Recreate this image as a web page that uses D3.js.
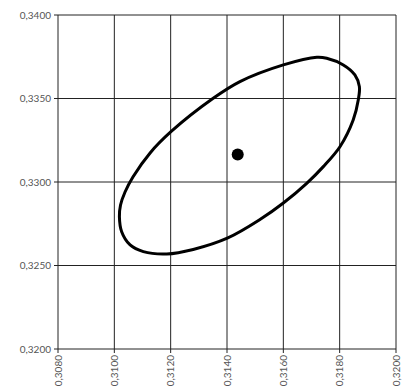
<!DOCTYPE html>
<html>
<head>
<meta charset="utf-8">
<script src="https://cdn.jsdelivr.net/npm/d3@7"></script>
<style>
  body { margin: 0; background: #fff; }
  text { font-family: Lato, "Open Sans", sans-serif; font-size: 10px; fill: #555; }
</style>
</head>
<body>
<div id="chart"></div>
<script>
// tick values of both axes
var xTicks = [0.308, 0.310, 0.312, 0.314, 0.316, 0.318, 0.320]
var yTicks = [0.320, 0.325, 0.330, 0.335, 0.340]

// ellipse outline (x, y)
var ellipseX = [0.31018, 0.31022, 0.31038, 0.31066, 0.31127, 0.31201, 0.31351,
  0.31446, 0.31600, 0.31719, 0.31754, 0.31813, 0.31854, 0.31870, 0.31866,
  0.31848, 0.31801, 0.31742, 0.31683, 0.31600, 0.31517, 0.31403, 0.31280,
  0.31186, 0.31103, 0.31056, 0.31026]
var ellipseY = [0.32792, 0.32862, 0.32940, 0.33030, 0.33174, 0.33301, 0.33501,
  0.33601, 0.33701, 0.33747, 0.33741, 0.33701, 0.33641, 0.33571, 0.33491,
  0.33371, 0.33211, 0.33092, 0.32992, 0.32874, 0.32775, 0.32665, 0.32596,
  0.32569, 0.32583, 0.32623, 0.32702]

// centre point
var centre = [0.31438, 0.33164]

var fmt = function (d) { return d.toFixed(4).replace('.', ',') }

var width = 406
var height = 390
var margin = { top: 15, right: 10, bottom: 41, left: 58 }

var svg = d3.select('#chart')
  .append('svg')
  .attr('width', width)
  .attr('height', height)

var x = d3.scaleLinear()
  .domain([0.308, 0.320])
  .range([margin.left, width - margin.right])
var y = d3.scaleLinear()
  .domain([0.320, 0.340])
  .range([height - margin.bottom, margin.top])

// grid
svg.append('g')
  .selectAll('line')
  .data(xTicks)
  .enter()
  .append('line')
  .attr('x1', function (d) { return x(d) })
  .attr('x2', function (d) { return x(d) })
  .attr('y1', y(0.340))
  .attr('y2', y(0.320) + 4)
  .attr('stroke', '#222')
svg.append('g')
  .selectAll('line')
  .data(yTicks)
  .enter()
  .append('line')
  .attr('x1', x(0.308) - 4)
  .attr('x2', x(0.320))
  .attr('y1', function (d) { return y(d) })
  .attr('y2', function (d) { return y(d) })
  .attr('stroke', '#222')

// y labels
svg.append('g')
  .selectAll('text')
  .data(yTicks)
  .enter()
  .append('text')
  .attr('x', x(0.308) - 7)
  .attr('y', function (d) { return y(d) })
  .attr('dy', '0.35em')
  .attr('text-anchor', 'end')
  .text(fmt)

// x labels, rotated
svg.append('g')
  .selectAll('text')
  .data(xTicks)
  .enter()
  .append('text')
  .attr('transform', function (d) {
    return 'translate(' + x(d) + ',' + (y(0.320) + 6) + ') rotate(-90)'
  })
  .attr('dy', '0.35em')
  .attr('text-anchor', 'end')
  .text(fmt)

// ellipse
var pts = ellipseX.map(function (d, i) { return [d, ellipseY[i]] })
svg.append('path')
  .datum(pts)
  .attr('d', d3.line()
    .x(function (d) { return x(d[0]) })
    .y(function (d) { return y(d[1]) })
    .curve(d3.curveCatmullRomClosed))
  .attr('fill', 'none')
  .attr('stroke', '#000')
  .attr('stroke-width', 3)

svg.append('circle')
  .attr('cx', x(centre[0]))
  .attr('cy', y(centre[1]))
  .attr('r', 6)
  .attr('fill', '#000')
</script>
</body>
</html>
